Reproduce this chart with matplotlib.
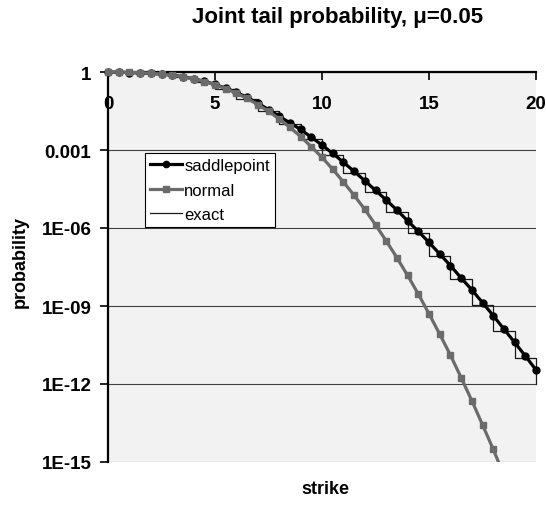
import numpy as np
import matplotlib
matplotlib.use('Agg')
import matplotlib.pyplot as plt
from matplotlib.patches import Rectangle

plt.rcParams['font.family'] = ['Liberation Sans', 'DejaVu Sans']

# strike grid (step 0.5) and integer strikes for the exact step curve
strike = np.arange(0, 20.5, 0.5)
strike_int = np.arange(0, 21)

saddlepoint = [1.0, 0.977, 0.955, 0.933, 0.891, 0.832, 0.759, 0.661, 0.550, 0.437,
               0.331, 0.240, 0.166, 0.105, 0.063, 0.036, 0.020, 0.011, 6.2e-3, 3.1e-3,
               1.55e-3, 7.4e-4, 3.4e-4, 1.5e-4, 6.6e-5, 2.8e-5, 1.2e-5, 4.9e-6, 1.9e-6, 7.4e-7,
               2.8e-7, 1.0e-7, 3.6e-8, 1.2e-8, 4.2e-9, 1.35e-9, 4.3e-10, 1.3e-10, 4.0e-11, 1.2e-11,
               3.5e-12]
normal = [0.991, 0.981, 0.964, 0.936, 0.892, 0.830, 0.749, 0.652, 0.543, 0.430,
          0.323, 0.230, 0.153, 0.096, 0.056, 0.0307, 0.0157, 7.45e-3, 3.3e-3, 1.35e-3,
          5.2e-4, 1.82e-4, 5.9e-5, 1.81e-5, 5.2e-6, 1.33e-6, 3.2e-7, 7.2e-8, 1.5e-8, 2.9e-9,
          5.0e-10, 8.3e-11, 1.3e-11, 1.76e-12, 2.3e-13, 2.7e-14, 3.1e-15, 3.1e-16, 2.9e-17, 2.5e-18,
          2.0e-19]
exact = [0.98, 0.91, 0.81, 0.63, 0.42, 0.22, 0.093, 0.032, 9.8e-3, 2.7e-3,
         6.5e-4, 1.35e-4, 2.5e-5, 4.3e-6, 6.5e-7, 8.7e-8, 1.05e-8, 1.1e-9, 1.1e-10, 1.0e-11,
         1.0e-12]

ytick_vals = [1, 1e-3, 1e-6, 1e-9, 1e-12, 1e-15]
ytick_labels = ['1', '0.001', '1E-06', '1E-09', '1E-12', '1E-15']
xtick_vals = [0, 5, 10, 15, 20]

GRAY = '#6b6b6b'

fig = plt.figure(figsize=(5.46, 5.06), dpi=100)
ax = fig.add_axes([108/546, 43/506, 428/546, 390/506])
ax.set_facecolor('#f2f2f2')

l_exact, = ax.step(strike_int, exact, where='post', color='#1a1a1a', lw=0.9, label='exact', zorder=3)
l_sad, = ax.plot(strike, saddlepoint, color='black', lw=2.3, marker='o', ms=5,
                 label='saddlepoint', zorder=4)
l_nor, = ax.plot(strike, normal, color=GRAY, lw=2.3, marker='s', ms=4.5,
                 label='normal', zorder=5)

# clip only at the bottom so markers at the top / left edge stay whole
for ln in (l_exact, l_sad, l_nor):
    ln.set_clip_path(Rectangle((-0.03, 0), 1.06, 1.1, transform=ax.transAxes))

ax.set_yscale('log')
ax.set_ylim(1e-15, 1)
ax.set_xlim(0, 20)
ax.set_yticks(ytick_vals)
ax.set_yticklabels(ytick_labels)
ax.yaxis.set_minor_locator(matplotlib.ticker.NullLocator())
ax.set_xticks(xtick_vals)
ax.set_xticklabels([str(v) for v in xtick_vals])

ax.xaxis.tick_top()
ax.tick_params(axis='x', direction='in', length=6, width=1.2, top=True, bottom=False,
               labeltop=True, labelbottom=False, pad=-29, labelsize=13.5)
ax.tick_params(axis='y', direction='out', length=6, width=1.2, pad=6, labelsize=13.5)
for t in ax.get_xticklabels() + ax.get_yticklabels():
    t.set_fontweight('bold')

ax.grid(axis='y', color='#404040', lw=0.8)
ax.grid(axis='x', visible=False)
ax.spines['right'].set_visible(False)
ax.spines['bottom'].set_visible(False)
ax.spines['left'].set_linewidth(1.6)
ax.spines['top'].set_linewidth(1.6)
ax.set_axisbelow(True)

leg = ax.legend(handles=[l_sad, l_nor, l_exact], loc='upper left',
                bbox_to_anchor=(37/428, 1 - 81/390), borderaxespad=0,
                fancybox=False, framealpha=1, edgecolor='black', fontsize=12,
                handlelength=1.9, handletextpad=0.15, labelspacing=0.58,
                borderpad=0.3, markerscale=0.9)
leg.get_frame().set_linewidth(0.8)

fig.text(338/546, 1 - 18/506, 'Joint tail probability, \u03bc=0.05', ha='center', va='center',
         fontsize=16, fontweight='bold')
fig.text(20/546, 1 - 262/506, 'probability', ha='center', va='center', rotation=90,
         fontsize=13, fontweight='bold')
fig.text(325/546, 1 - 490/506, 'strike', ha='center', va='center',
         fontsize=13, fontweight='bold')

fig.savefig('out.png', dpi=100)
